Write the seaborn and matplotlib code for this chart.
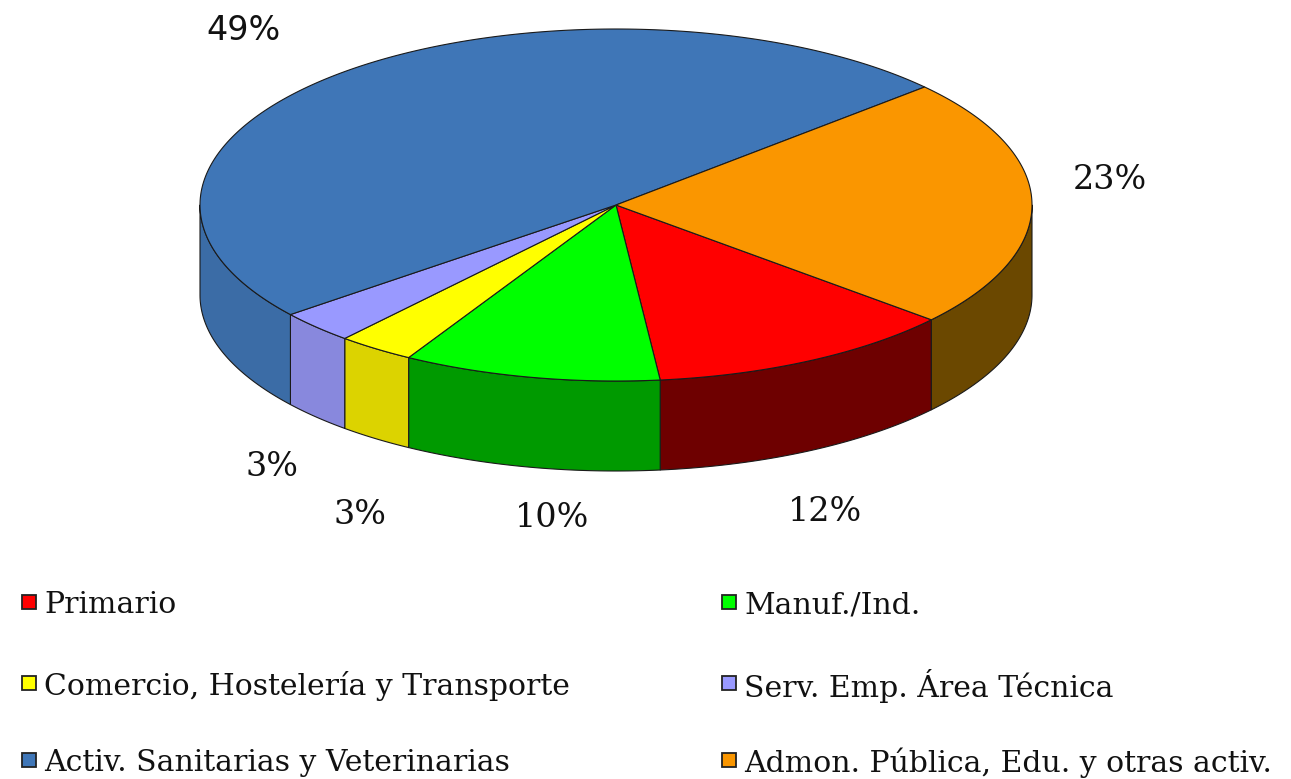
import numpy as np
import matplotlib
matplotlib.use("Agg")
import matplotlib.pyplot as plt
from matplotlib.patches import Polygon, Rectangle
import seaborn as sns

# Sector shares (%)
categories = ["Primario", "Manuf./Ind.", "Comercio, Hostelería y Transporte",
              "Serv. Emp. Área Técnica", "Activ. Sanitarias y Veterinarias",
              "Admon. Pública, Edu. y otras activ."]
shares = [12, 10, 3, 3, 49, 23]
pct_labels = ["12%", "10%", "3%", "3%", "49%", "23%"]

top_colors = ["#FF0000", "#00FF00", "#FFFF00", "#9999FF", "#3F76B7", "#FA9600"]
side_colors = ["#6E0000", "#009A00", "#DCD300", "#8888DD", "#3B6CA6", "#6B4800"]

sns.set_theme(style="white")
plt.rcParams["font.family"] = ["DejaVu Serif"]

W, H = 1291, 779
fig = plt.figure(figsize=(W / 100, H / 100), dpi=100)
ax = fig.add_axes([0, 0, 1, 1])
ax.set_xlim(0, W)
ax.set_ylim(H, 0)
ax.axis("off")

# Pie geometry (pixel units of the axes)
cx, cy = 616, 205
a, b = 416, 176
depth = 90
start = -40.7  # degrees, slices run clockwise


def pt(t_deg, dz=0.0):
    t = np.radians(t_deg)
    return cx + a * np.cos(t), cy - b * np.sin(t) + dz


vals = np.asarray(shares, dtype=float)
spans = vals / vals.sum() * 360.0
ends = start - np.cumsum(spans)
starts = ends + spans

edge_kw = dict(edgecolor="#1a1a1a", linewidth=0.8, joinstyle="round")

# outer side walls (only the front half, t in [-180, 0], is visible)
for s0, s1, col in zip(starts, ends, side_colors):
    for shift in (0, -360, 360):
        hi = min(s0 + shift, 0.0)
        lo = max(s1 + shift, -180.0)
        if hi > lo:
            ts = np.linspace(hi, lo, 80)
            top = [pt(t) for t in ts]
            bot = [pt(t, depth) for t in ts[::-1]]
            ax.add_patch(Polygon(top + bot, closed=True, facecolor=col, **edge_kw))

# top face slices
for s0, s1, col in zip(starts, ends, top_colors):
    ts = np.linspace(s0, s1, 200)
    poly = [(cx, cy)] + [pt(t) for t in ts]
    ax.add_patch(Polygon(poly, closed=True, facecolor=col, **edge_kw))

# percentage labels
label_xy = [(825, 512), (552, 518), (360, 515), (272, 467), (243, 30), (1110, 180)]
for txt, (x, y) in zip(pct_labels, label_xy):
    fam = ["DejaVu Sans"] if txt == "49%" else ["DejaVu Serif"]
    ax.text(x, y, txt, ha="center", va="center", fontsize=24, family=fam, color="#111111")

# legend: two columns filled row by row
col_x = [22, 722]
row_y = [602, 683, 760]
box = 14
for i, (name, col) in enumerate(zip(categories, top_colors)):
    x = col_x[i % 2]
    y = row_y[i // 2]
    ax.add_patch(Rectangle((x, y - box / 2), box, box, facecolor=col,
                           edgecolor="#222222", linewidth=1.3))
    ax.text(x + box + 8, y, name, ha="left", va="center_baseline",
            fontsize=21.5, color="#111111")

fig.savefig("out.png", dpi=100)
